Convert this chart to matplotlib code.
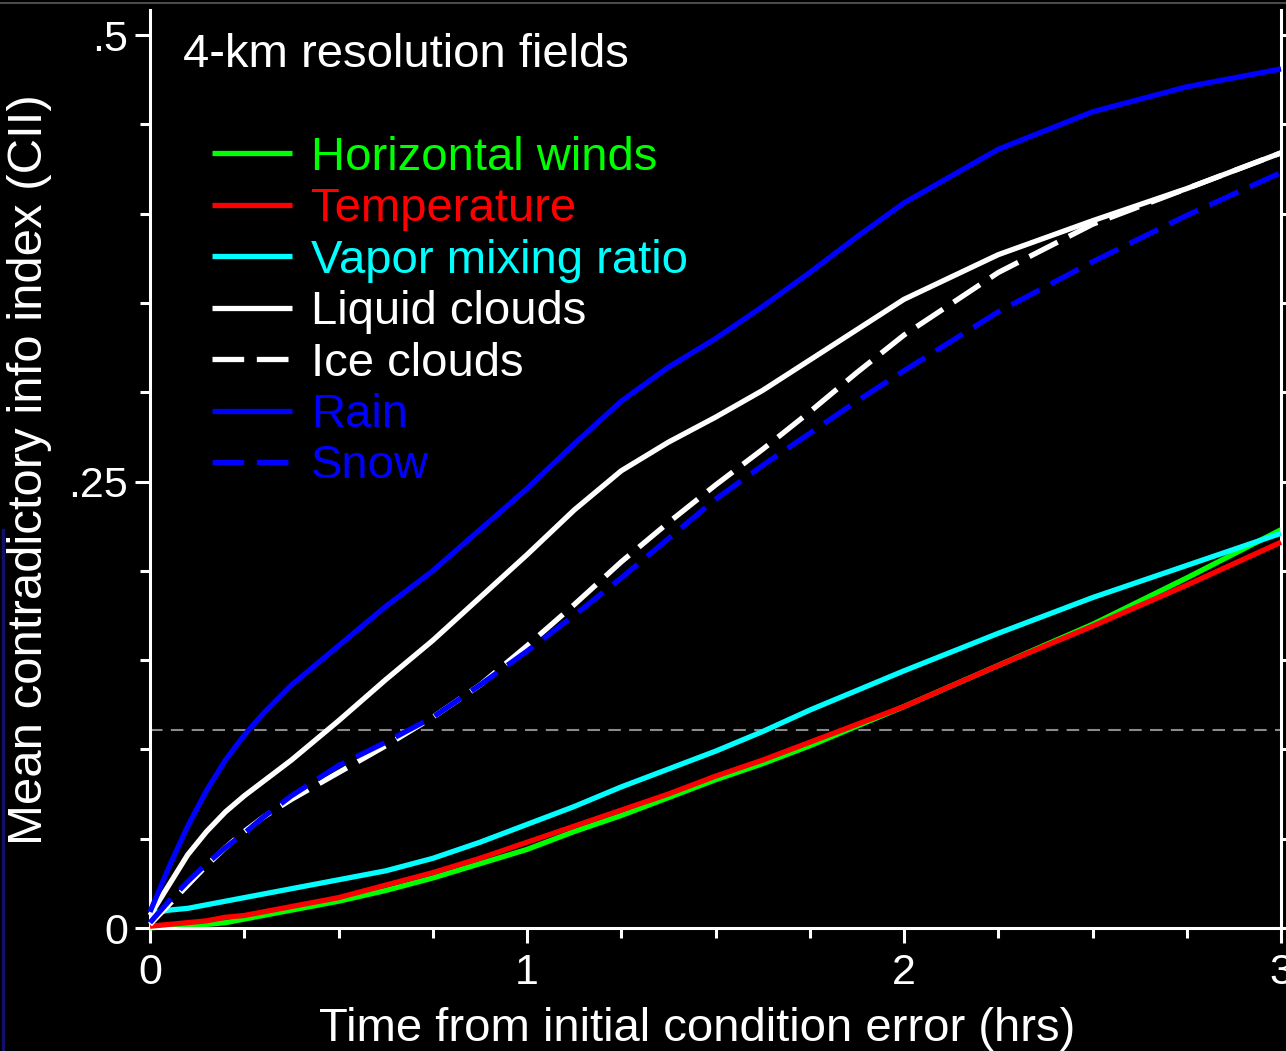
import matplotlib
matplotlib.use('Agg')
import matplotlib.pyplot as plt
from matplotlib.lines import Line2D
from matplotlib.ticker import MultipleLocator


# Hours since the initial condition error
hours = [0, 0.05, 0.1, 0.15, 0.2, 0.25, 0.3, 0.375, 0.5, 0.625, 0.75, 0.875, 1.0,
         1.125, 1.25, 1.375, 1.5, 1.625, 1.75, 1.875, 2.0, 2.25, 2.5, 2.75, 3.0]

# Mean contradictory info index per field
horizontalWinds = [0.000, 0.001, 0.001, 0.002, 0.003, 0.005, 0.007, 0.010, 0.015, 0.021, 0.028, 0.036, 0.044,
                   0.054, 0.063, 0.073, 0.083, 0.092, 0.102, 0.113, 0.124, 0.147, 0.170, 0.196, 0.223]
temperature = [0.001, 0.002, 0.003, 0.004, 0.006, 0.007, 0.009, 0.012, 0.017, 0.024, 0.031, 0.039, 0.048,
               0.057, 0.066, 0.075, 0.085, 0.094, 0.104, 0.114, 0.124, 0.147, 0.169, 0.192, 0.216]
vaporMixingRatio = [0.008, 0.010, 0.011, 0.013, 0.015, 0.017, 0.019, 0.022, 0.027, 0.032, 0.039, 0.048, 0.058,
                    0.068, 0.079, 0.089, 0.099, 0.110, 0.122, 0.133, 0.144, 0.165, 0.185, 0.203, 0.221]
liquidClouds = [0.007, 0.024, 0.041, 0.054, 0.065, 0.074, 0.082, 0.094, 0.116, 0.139, 0.161, 0.185, 0.209,
                0.234, 0.256, 0.272, 0.286, 0.301, 0.318, 0.335, 0.352, 0.377, 0.396, 0.414, 0.434]
iceClouds = [0.002, 0.013, 0.024, 0.035, 0.045, 0.054, 0.062, 0.072, 0.087, 0.102, 0.118, 0.136, 0.158,
             0.181, 0.205, 0.227, 0.248, 0.268, 0.289, 0.311, 0.332, 0.367, 0.394, 0.414, 0.434]
rain = [0.009, 0.034, 0.057, 0.077, 0.094, 0.108, 0.120, 0.136, 0.158, 0.180, 0.200, 0.223, 0.246,
        0.271, 0.295, 0.314, 0.330, 0.348, 0.367, 0.387, 0.406, 0.436, 0.457, 0.471, 0.481]
snow = [0.003, 0.015, 0.026, 0.036, 0.045, 0.053, 0.062, 0.074, 0.091, 0.104, 0.118, 0.136, 0.155,
        0.175, 0.196, 0.218, 0.240, 0.259, 0.277, 0.295, 0.312, 0.345, 0.373, 0.399, 0.423]

fieldNames = ['Horizontal winds', 'Temperature', 'Vapor mixing ratio', 'Liquid clouds',
              'Ice clouds', 'Rain', 'Snow']
referenceLevel = 0.111

xTicks = [0, 1, 2, 3]
xTickLabels = ['0', '1', '2', '3']
yTicks = [0, 0.25, 0.5]
yTickLabels = ['0', '.25', '.5']

TITLE = '4-km resolution fields'
XLABEL = 'Time from initial condition error (hrs)'
YLABEL = 'Mean contradictory info index (CII)'

# Line styles per field
fieldColors = ['#00ff00', '#ff0000', '#00ffff', 'white', 'white', '#0000ff', '#0000ff']
fieldDashed = [False, False, False, False, True, False, True]
DASHES = (6, 2.4)

FIG_W, FIG_H = 1286, 1051
plt.rcParams['font.family'] = ['Liberation Sans', 'DejaVu Sans']


def toFig(px, py):
    # pixel position (from the top-left) -> figure fraction
    return px / FIG_W, 1 - py / FIG_H


fig = plt.figure(figsize=(FIG_W / 100, FIG_H / 100), dpi=100, facecolor='black')
ax = fig.add_axes([150 / FIG_W, 123 / FIG_H, 1131 / FIG_W, 918 / FIG_H])
ax.set_facecolor('black')

series = [horizontalWinds, temperature, vaporMixingRatio, liquidClouds, iceClouds, rain, snow]

ax.axhline(referenceLevel, color='#8a8a8a', lw=1.5, dashes=(6, 4), zorder=1)

for i, values in enumerate(series):
    line, = ax.plot(hours, values, color=fieldColors[i], lw=3.8, zorder=2 + i,
                    solid_capstyle='butt', solid_joinstyle='round', clip_on=False)
    if fieldDashed[i]:
        line.set_dashes(DASHES)

ax.set_xlim(0, 3)
ax.set_ylim(0, 0.514)

ax.set_xticks(xTicks)
ax.set_xticklabels(xTickLabels)
ax.set_yticks(yTicks)
ax.set_yticklabels(yTickLabels)
ax.xaxis.set_minor_locator(MultipleLocator(0.25))
ax.yaxis.set_minor_locator(MultipleLocator(0.05))

ax.tick_params(which='both', direction='out', colors='white', width=2.2,
               right=True, labelright=False, top=False, labelsize=31, pad=5)
ax.tick_params(which='major', length=11)
ax.tick_params(which='minor', length=7)
ax.tick_params(axis='x', pad=7)

for side in ['left', 'bottom', 'right']:
    ax.spines[side].set_color('white')
    ax.spines[side].set_linewidth(2.2)
ax.spines['top'].set_visible(False)

ax.set_xlabel(XLABEL, fontsize=34, color='white')
ax.xaxis.set_label_coords(0.4836, -0.086)
ax.set_ylabel(YLABEL, fontsize=35.4, color='white')
ax.yaxis.set_label_coords(-0.087, 0.499)

# title inside the frame
tx, ty = toFig(183, 67)
fig.text(tx, ty, TITLE, fontsize=34, color='white', va='baseline', ha='left')

# legend drawn by hand: short line sample followed by a coloured label
for i, name in enumerate(fieldNames):
    rowY = 153 + i * 51.5
    x0, y0 = toFig(212, rowY)
    x1, _ = toFig(292, rowY)
    handle = Line2D([x0, x1], [y0, y0], transform=fig.transFigure, color=fieldColors[i],
                    lw=3.8, solid_capstyle='butt')
    if fieldDashed[i]:
        handle.set_dashes(DASHES)
    fig.add_artist(handle)
    lx, ly = toFig(311, rowY + 16.5)
    fig.text(lx, ly, name, fontsize=34, color=fieldColors[i], va='baseline', ha='left')

# thin frame edges along the top and the lower left of the image
gx0, gy0 = toFig(0, 3)
gx1, _ = toFig(FIG_W, 3)
fig.add_artist(Line2D([gx0, gx1], [gy0, gy0], transform=fig.transFigure, color='#4a4a4a', lw=1.5))
bx, by0 = toFig(3, 530)
_, by1 = toFig(3, FIG_H)
fig.add_artist(Line2D([bx, bx], [by0, by1], transform=fig.transFigure, color='#10106a', lw=2.5))

fig.savefig('out.png', dpi=100, facecolor='black')
